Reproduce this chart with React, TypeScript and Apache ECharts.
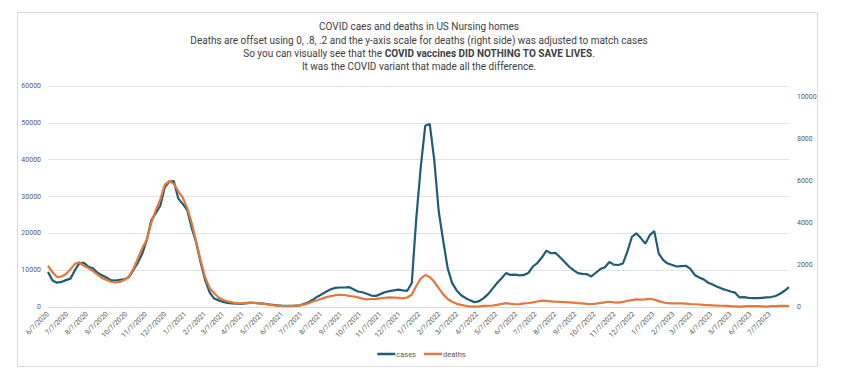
import React, { useEffect, useRef } from "react";
import * as echarts from "echarts";

const startDate = "6/7/2020";

const tickLabels = [
  "6/7/2020", "7/7/2020", "8/7/2020", "9/7/2020", "10/7/2020", "11/7/2020", "12/7/2020",
  "1/7/2021", "2/7/2021", "3/7/2021", "4/7/2021", "5/7/2021", "6/7/2021", "7/7/2021",
  "8/7/2021", "9/7/2021", "10/7/2021", "11/7/2021", "12/7/2021",
  "1/7/2022", "2/7/2022", "3/7/2022", "4/7/2022", "5/7/2022", "6/7/2022", "7/7/2022",
  "8/7/2022", "9/7/2022", "10/7/2022", "11/7/2022", "12/7/2022",
  "1/7/2023", "2/7/2023", "3/7/2023", "4/7/2023", "5/7/2023", "6/7/2023", "7/7/2023",
];

const leftTicks = [0, 10000, 20000, 30000, 40000, 50000, 60000];
const rightTicks = [0, 2000, 4000, 6000, 8000, 10000];

// weekly values, one per week starting at 6/7/2020
const cases = [
  9500, 7200, 6600, 6800, 7300, 7700, 10000, 11900, 12000, 10900,
  10500, 9300, 8600, 8000, 7300, 7200, 7400, 7500, 8100, 10000,
  12000, 14500, 18200, 23500, 25500, 27500, 32500, 34000, 34200, 29500,
  28000, 26300, 21500, 17500, 12000, 7300, 4000, 2300, 1800, 1400,
  1100, 1000, 900, 850, 1000, 1100, 1150, 1000, 900, 700,
  600, 450, 350, 300, 300, 350, 450, 800, 1300, 2000,
  2800, 3500, 4200, 4800, 5200, 5300, 5300, 5400, 4800, 4200,
  4000, 3600, 3100, 3000, 3500, 4000, 4300, 4500, 4700, 4500,
  4400, 6500, 24000, 38000, 49200, 49700, 40000, 26000, 18000, 10500,
  6500, 4500, 3200, 2400, 1800, 1300, 1600, 2400, 3500, 5000,
  6500, 7800, 9200, 8700, 8800, 8600, 8700, 9300, 11000, 12000,
  13500, 15300, 14600, 14700, 13500, 12300, 11000, 10000, 9200, 9000,
  8900, 8300, 9300, 10300, 10800, 12200, 11500, 11400, 11800, 15000,
  19000, 20000, 18700, 17200, 19500, 20600, 14500, 12700, 11800, 11400,
  11000, 11100, 11200, 10400, 8700, 8000, 7500, 6600, 6100, 5500,
  5000, 4600, 4200, 3900, 2600, 2700, 2500, 2400, 2400, 2500,
  2600, 2700, 3000, 3600, 4400, 5400,
];

const deaths = [
  1960, 1650, 1420, 1450, 1560, 1800, 2050, 2120, 1950, 1850,
  1700, 1550, 1380, 1280, 1200, 1170, 1190, 1280, 1450, 1800,
  2300, 2800, 3200, 4000, 4600, 5100, 5800, 5980, 5850, 5500,
  5200, 4700, 4000, 3100, 2200, 1400, 900, 650, 450, 330,
  270, 220, 180, 170, 200, 210, 190, 170, 150, 120,
  90, 70, 50, 40, 40, 60, 80, 110, 180, 260,
  320, 400, 470, 520, 560, 580, 570, 530, 500, 460,
  400, 365, 380, 390, 410, 430, 460, 450, 430, 410,
  450, 580, 1000, 1350, 1520, 1430, 1200, 900, 600, 380,
  250, 150, 100, 60, 30, 20, 30, 50, 60, 70,
  100, 150, 180, 150, 130, 140, 170, 190, 220, 260,
  300, 290, 270, 250, 240, 230, 220, 210, 180, 170,
  150, 140, 160, 190, 220, 250, 220, 210, 240, 290,
  330, 360, 350, 360, 390, 350, 280, 220, 180, 170,
  170, 170, 160, 140, 130, 120, 100, 90, 80, 70,
  60, 55, 40, 30, 15, 30, 40, 45, 40, 30,
  20, 40, 45, 50, 55, 40,
];

const seriesNames = ["cases", "deaths"];
const titleLines = [
  "COVID caes and deaths in US Nursing homes",
  "Deaths are offset using 0, .8, .2 and the y-axis scale for deaths (right side) was adjusted to match cases",
  "So you can visually see that the {b|COVID vaccines DID NOTHING TO SAVE LIVES}.",
  "It was the COVID variant that made all the difference.",
];

const WEEK = 7 * 86400000;
function parseDate(s: string) {
  const [m, d, y] = s.split("/").map(Number);
  return Date.UTC(y, m - 1, d);
}
const t0 = parseDate(startDate);
const tickPos = tickLabels.map((l) => (parseDate(l) - t0) / WEEK);

export default function App() {
  const ref = useRef<HTMLDivElement>(null);
  useEffect(() => {
    if (!ref.current) return;
    const chart = echarts.init(ref.current, null, { renderer: "svg" });
    const labelFor = (v: number) => {
      for (let i = 0; i < tickPos.length; i++) {
        if (Math.abs(tickPos[i] - v) < 1e-6) return tickLabels[i];
      }
      return "";
    };
    const font = "Roboto, 'Noto Sans', sans-serif";
    const gray = "#595959";
    chart.setOption({
      animation: false,
      backgroundColor: "#ffffff",
      textStyle: { fontFamily: font, color: gray },
      title: {
        text: titleLines.join("\n"),
        left: 419,
        top: 20,
        padding: 0,
        textAlign: "center",
        textStyle: {
          fontFamily: font,
          fontSize: 10,
          fontWeight: "normal",
          color: "#404040",
          lineHeight: 13.4,
          rich: {
            b: { fontFamily: font, fontSize: 10, fontWeight: "bold", color: "#404040", lineHeight: 13.4 },
          },
        },
      },
      graphic: [
        {
          type: "rect",
          shape: { x: 17.5, y: 12.5, width: 800, height: 354 },
          style: { fill: "none", stroke: "#d9d9d9", lineWidth: 1 },
          silent: true,
          z: -1,
        },
      ],
      legend: {
        data: seriesNames,
        left: "center",
        top: 345,
        icon: "rect",
        itemWidth: 18,
        itemHeight: 2.5,
        itemGap: 8,
        textStyle: { fontFamily: font, fontSize: 7.5, color: gray, padding: [0, 0, 0, -4] },
      },
      grid: { left: 48, right: 54, top: 86, bottom: 72, containLabel: false },
      xAxis: {
        type: "value",
        min: 0,
        max: cases.length - 1,
        axisLine: { show: true, lineStyle: { color: "#d9d9d9", width: 1 } },
        axisTick: { show: false },
        splitLine: { show: false },
        axisLabel: {
          customValues: tickPos,
          formatter: (v: number) => labelFor(v),
          rotate: 45,
          fontSize: 7,
          color: gray,
          margin: 6,
          fontFamily: font,
        },
      },
      yAxis: [
        {
          type: "value",
          position: "left",
          min: leftTicks[0],
          max: leftTicks[leftTicks.length - 1],
          interval: leftTicks[1] - leftTicks[0],
          axisLine: { show: false, lineStyle: { color: gray } },
          axisTick: { show: false },
          splitLine: { show: true, lineStyle: { color: "#e3e3e3", width: 1 } },
          axisLabel: {
            fontSize: 7,
            color: gray,
            margin: 7,
            fontFamily: font,
            formatter: (v: number) => String(v),
          },
        },
        {
          type: "value",
          position: "right",
          min: rightTicks[0],
          max: 10500,
          interval: rightTicks[1] - rightTicks[0],
          axisLine: { show: false, lineStyle: { color: gray } },
          axisTick: { show: false },
          splitLine: { show: false },
          axisLabel: {
            fontSize: 7,
            color: gray,
            margin: 8,
            fontFamily: font,
            showMaxLabel: false,
            formatter: (v: number) => (rightTicks.indexOf(v) >= 0 ? String(v) : ""),
          },
        },
      ],
      series: [
        {
          name: seriesNames[0],
          type: "line",
          yAxisIndex: 0,
          showSymbol: false,
          data: cases.map((v, i) => [i, v]),
          lineStyle: { color: "#1f5d74", width: 2.2 },
          itemStyle: { color: "#1f5d74" },
          z: 2,
        },
        {
          name: seriesNames[1],
          type: "line",
          yAxisIndex: 1,
          showSymbol: false,
          data: deaths.map((v, i) => [i, v]),
          lineStyle: { color: "#e2783a", width: 2.2 },
          itemStyle: { color: "#e2783a" },
          z: 3,
        },
      ],
    });
    return () => chart.dispose();
  }, []);
  return (
    <div
      ref={ref}
      style={{ position: "fixed", left: 0, top: 0, width: 843, height: 379, background: "#fff" }}
    />
  );
}
